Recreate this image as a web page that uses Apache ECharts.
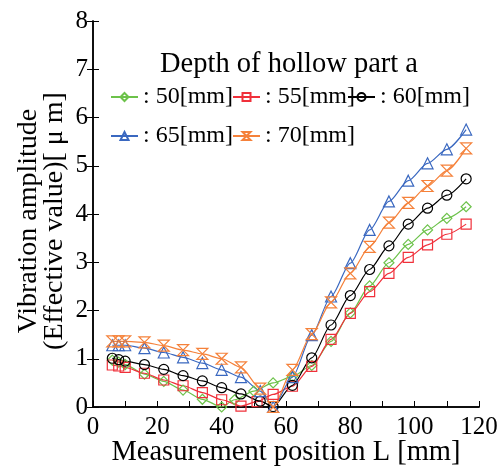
<!DOCTYPE html>
<html><head><meta charset="utf-8">
<script src="https://cdn.jsdelivr.net/npm/echarts@6/dist/echarts.min.js"></script>
<style>html,body{margin:0;padding:0;background:#fff}#c{width:501px;height:468px}</style>
</head><body><div id="c"></div>
<script>
const seriesNames = [': 50[mm]', ': 55[mm]', ': 60[mm]', ': 65[mm]', ': 70[mm]'];
const x50 = [6,8,10,16,22,28,34,40,44,50,56,62,68,74,80,86,92,98,104,110,116];
const y50 = [0.97,0.93,0.88,0.68,0.53,0.35,0.16,0.0,0.15,0.33,0.50,0.63,0.86,1.36,1.95,2.51,2.99,3.37,3.67,3.91,4.15];
const x55 = [6,8,10,16,22,28,34,40,46,51,56,62,68,74,80,86,92,98,104,110,116];
const y55 = [0.87,0.85,0.82,0.70,0.56,0.44,0.30,0.15,0.02,0.11,0.26,0.43,0.84,1.40,1.94,2.39,2.77,3.10,3.36,3.58,3.79];
const x60 = [6,8,10,16,22,28,34,40,46,52,56,62,68,74,80,86,92,98,104,110,116];
const y60 = [1.01,0.98,0.95,0.88,0.78,0.65,0.54,0.40,0.27,0.12,0.01,0.45,1.02,1.70,2.31,2.85,3.34,3.79,4.12,4.39,4.73];
const x65 = [6,8,10,16,22,28,34,40,46,52,56,62,68,74,80,86,92,98,104,110,116];
const y65 = [1.28,1.28,1.28,1.22,1.13,1.03,0.91,0.77,0.62,0.33,0.0,0.62,1.49,2.29,2.98,3.67,4.26,4.69,5.05,5.34,5.75];
const x70 = [6,8,10,16,22,28,34,40,46,52,56,62,68,74,80,86,92,98,104,110,116];
const y70 = [1.36,1.36,1.36,1.34,1.27,1.18,1.10,1.0,0.82,0.38,0.0,0.77,1.51,2.17,2.77,3.32,3.82,4.23,4.58,4.90,5.36];
const xTicks = [0,20,40,60,80,100,120];
const yTicks = [0,1,2,3,4,5,6,7,8];

const colors = ['#6cc24a','#f0303a','#000000','#3a68c0','#f5813a'];
const symbols = ['diamond','rect','circle','triangle','path://M0,0L10,0L0,10L10,10Z'];
const sizes = [10,10,10,11,11];
const FONT = "'Liberation Serif','Times New Roman',serif";

function pairs(xs, ys){ return xs.map((x,i)=>[x, ys[i]]); }
const allX = [x50,x55,x60,x65,x70];
const allY = [y50,y55,y60,y65,y70];

const series = seriesNames.map((n,i)=>({
  name: n, type: 'line', data: pairs(allX[i], allY[i]),
  symbol: symbols[i], symbolSize: sizes[i], smooth: 0.25, smoothMonotone: 'x',
  lineStyle: {color: colors[i], width: 1.2},
  itemStyle: {color: 'rgba(255,255,255,0)', borderColor: colors[i], borderWidth: 1.2},
  emphasis: {disabled: true}, animation: false
}));

const legendPos = [[110,85],[232,85],[347,85],[110,124],[232,124]];
const legends = seriesNames.map((n,i)=>({
  data: [n], left: legendPos[i][0], top: legendPos[i][1], itemWidth: 27, itemHeight: 10,
  padding: 0, selectedMode: false,
  textStyle: {fontFamily: FONT, fontSize: 24, color: '#000'}
}));

const chart = echarts.init(document.getElementById('c'), null, {renderer: 'canvas'});
chart.setOption({
  animation: false,
  backgroundColor: '#fff',
  title: {text: 'Depth of hollow part a', left: 155, top: 45,
    textStyle: {fontFamily: FONT, fontSize: 28.5, fontWeight: 'normal', color: '#000'}},
  legend: legends,
  grid: {left: 93, right: 22, top: 21, bottom: 61, containLabel: false, outerBoundsMode: 'none'},
  xAxis: [
    {type: 'value', min: 0, max: 120, interval: 20, position: 'bottom',
     name: 'Measurement position L [mm]', nameLocation: 'middle', nameGap: 31, nameMoveOverlap: false,
     nameTextStyle: {fontFamily: FONT, fontSize: 28.5, color: '#000'},
     axisLine: {show: true, lineStyle: {color: '#000', width: 1.5}},
     axisTick: {show: true, inside: true, length: 6, lineStyle: {color: '#000'}},
     minorTick: {show: true, splitNumber: 2, length: 6, lineStyle: {color: '#000'}},
     axisLabel: {fontFamily: FONT, fontSize: 25, color: '#000', margin: 8,
       formatter: v => xTicks.includes(v) ? String(v) : ''},
     splitLine: {show: false}},
    {type: 'value', min: 0, max: 120, interval: 20, position: 'top',
     axisLine: {show: true, lineStyle: {color: '#000', width: 1.5}},
     axisTick: {show: false}, axisLabel: {show: false}, splitLine: {show: false}}
  ],
  yAxis: [
    {type: 'value', min: 0, max: 8, interval: 1, position: 'left',
     name: 'Vibration amplitude\n(Effective value)[ μ m]', nameLocation: 'middle', nameGap: 25, nameRotate: 90,
     nameMoveOverlap: false,
     nameTextStyle: {fontFamily: FONT, fontSize: 28, color: '#000', lineHeight: 26, padding: [0,14,0,0]},
     axisLine: {show: true, lineStyle: {color: '#000', width: 1.5}},
     axisTick: {show: true, inside: true, length: 6, lineStyle: {color: '#000'}},
     axisLabel: {fontFamily: FONT, fontSize: 25, color: '#000', margin: 5,
       formatter: v => yTicks.includes(v) ? String(v) : ''},
     splitLine: {show: false}},
    {type: 'value', min: 0, max: 8, interval: 1, position: 'right',
     axisLine: {show: true, lineStyle: {color: '#000', width: 1.5}},
     axisTick: {show: true, inside: true, length: 6, lineStyle: {color: '#000'}},
     axisLabel: {show: false}, splitLine: {show: false}}
  ],
  series: series
});
</script></body></html>
